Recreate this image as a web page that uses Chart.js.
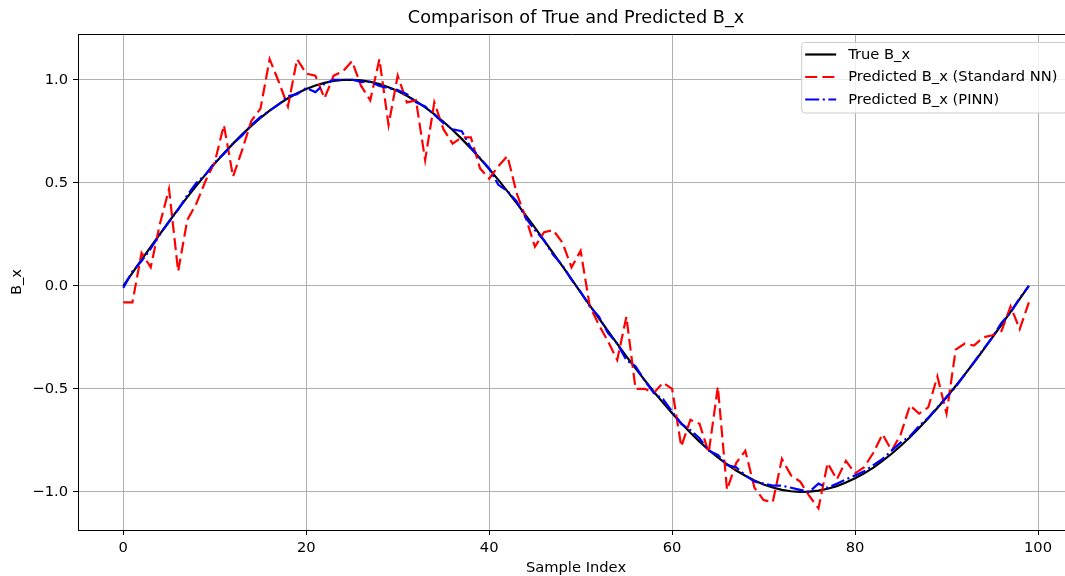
<!DOCTYPE html>
<html>
<head>
<meta charset="utf-8">
<title>Comparison of True and Predicted B_x</title>
<script src="https://cdn.jsdelivr.net/npm/chart.js@4.4.1/dist/chart.umd.min.js"></script>
<style>
    html, body { margin: 0; padding: 0; background: #fff; overflow: hidden; }
    canvas { display: block; }
</style>
</head>
<body>
<canvas id="bxChart" width="1065" height="576"></canvas>
<script>
// ==============================
// Data
// ==============================
const sampleIndex = Array.from({ length: 100 }, (_, i) => i);

const trueBx = [
    0.000, 0.063, 0.127, 0.189, 0.251, 0.312, 0.372, 0.430, 0.486, 0.541,
    0.593, 0.643, 0.690, 0.735, 0.776, 0.815, 0.850, 0.882, 0.910, 0.934,
    0.955, 0.972, 0.985, 0.994, 0.999, 1.000, 0.997, 0.990, 0.979, 0.964,
    0.945, 0.922, 0.896, 0.866, 0.833, 0.796, 0.756, 0.713, 0.667, 0.618,
    0.567, 0.514, 0.458, 0.401, 0.342, 0.282, 0.220, 0.158, 0.095, 0.032,
    -0.032, -0.095, -0.158, -0.220, -0.282, -0.342, -0.401, -0.458, -0.514, -0.567,
    -0.618, -0.667, -0.713, -0.756, -0.796, -0.833, -0.866, -0.896, -0.922, -0.945,
    -0.964, -0.979, -0.990, -0.997, -1.000, -0.999, -0.994, -0.985, -0.972, -0.955,
    -0.934, -0.910, -0.882, -0.850, -0.815, -0.776, -0.735, -0.690, -0.643, -0.593,
    -0.541, -0.486, -0.430, -0.372, -0.312, -0.251, -0.189, -0.127, -0.063, 0.000
];

const predictedNN = [
    -0.08, -0.08, 0.16, 0.09, 0.30, 0.47, 0.07, 0.32, 0.40, 0.51,
    0.60, 0.78, 0.53, 0.66, 0.80, 0.86, 1.10, 0.99, 0.87, 1.10,
    1.03, 1.02, 0.91, 1.02, 1.04, 1.09, 0.97, 0.90, 1.10, 0.78,
    1.02, 0.89, 0.90, 0.61, 0.89, 0.76, 0.69, 0.72, 0.72, 0.57,
    0.52, 0.58, 0.63, 0.45, 0.33, 0.19, 0.26, 0.27, 0.21, 0.09,
    0.17, -0.10, -0.19, -0.27, -0.36, -0.15, -0.50, -0.50, -0.52, -0.47,
    -0.50, -0.78, -0.65, -0.67, -0.81, -0.49, -0.99, -0.86, -0.80, -0.98,
    -1.04, -1.05, -0.84, -0.92, -0.95, -1.02, -1.08, -0.86, -0.94, -0.85,
    -0.91, -0.88, -0.81, -0.72, -0.80, -0.72, -0.58, -0.62, -0.59, -0.44,
    -0.62, -0.31, -0.28, -0.29, -0.25, -0.24, -0.22, -0.10, -0.21, -0.08
];

const predictedPINN = [
    -0.01, 0.07, 0.12, 0.18, 0.25, 0.31, 0.37, 0.44, 0.50, 0.54,
    0.60, 0.64, 0.69, 0.73, 0.78, 0.82, 0.85, 0.88, 0.92, 0.93,
    0.96, 0.94, 0.98, 1.00, 1.00, 1.00, 0.99, 0.99, 0.97, 0.96,
    0.95, 0.93, 0.89, 0.87, 0.83, 0.79, 0.76, 0.75, 0.67, 0.62,
    0.57, 0.49, 0.46, 0.41, 0.33, 0.27, 0.22, 0.15, 0.10, 0.03,
    -0.03, -0.10, -0.15, -0.23, -0.28, -0.36, -0.39, -0.46, -0.52, -0.55,
    -0.61, -0.67, -0.70, -0.74, -0.80, -0.82, -0.87, -0.88, -0.92, -0.95,
    -0.96, -0.97, -0.97, -0.98, -0.99, -1.00, -0.96, -0.98, -0.96, -0.94,
    -0.92, -0.90, -0.87, -0.84, -0.80, -0.76, -0.73, -0.68, -0.64, -0.59,
    -0.54, -0.49, -0.43, -0.37, -0.31, -0.25, -0.18, -0.13, -0.06, 0.00
];

const xTicks = [0, 20, 40, 60, 80, 100];
const yTicks = [-1.0, -0.5, 0.0, 0.5, 1.0];

const FONT = "'DejaVu Sans', sans-serif";
const TICK_SIZE = 14.7;

function toPoints(values) {
    return values.map((v, i) => ({ x: sampleIndex[i], y: v }));
}

// ==============================
// Title, axis labels, top spine and matplotlib-style legend
// ==============================
const decorPlugin = {
    id: "decor",
    afterDraw(chart) {
        const ctx = chart.ctx;
        const area = chart.chartArea;
        // the axes box runs on a little past the right edge of the picture
        const axesRight = 1074;
        const midX = (area.left + axesRight) / 2;

        ctx.save();
        ctx.strokeStyle = "#000";
        ctx.lineWidth = 1;
        ctx.beginPath();
        ctx.moveTo(area.left, area.top + 0.5);
        ctx.lineTo(chart.width, area.top + 0.5);
        ctx.stroke();

        ctx.fillStyle = "#000";
        ctx.textAlign = "center";
        ctx.textBaseline = "middle";
        ctx.font = "17.7px " + FONT;
        ctx.fillText("Comparison of True and Predicted B_x", midX, 18);

        ctx.font = TICK_SIZE + "px " + FONT;
        ctx.fillText("Sample Index", midX, 568);

        ctx.translate(17, (area.top + area.bottom) / 2);
        ctx.rotate(-Math.PI / 2);
        ctx.fillText("B_x", 0, 0);
        ctx.restore();

        // legend box
        const pad = 6;
        const handle = 31;
        const textPad = 12;
        const rowH = 22.5;
        const sets = chart.data.datasets;

        ctx.save();
        ctx.font = TICK_SIZE + "px " + FONT;
        let maxW = 0;
        sets.forEach(ds => { maxW = Math.max(maxW, ctx.measureText(ds.label).width); });
        const right = axesRight - 7;
        const boxW = pad * 2 + handle + textPad + maxW + 1;
        const left = right - boxW;
        const top = 42.5;
        const boxH = 70.5;

        ctx.fillStyle = "rgba(255,255,255,0.8)";
        ctx.strokeStyle = "#cccccc";
        ctx.lineWidth = 1;
        ctx.beginPath();
        ctx.roundRect(left, top, boxW, boxH, 3);
        ctx.fill();
        ctx.stroke();

        sets.forEach((ds, i) => {
            const y = top + 12 + rowH * i;
            ctx.strokeStyle = ds.borderColor;
            ctx.lineWidth = ds.borderWidth;
            ctx.setLineDash(ds.borderDash || []);
            ctx.beginPath();
            ctx.moveTo(left + 3.5, y);
            ctx.lineTo(left + 3.5 + handle, y);
            ctx.stroke();
            ctx.setLineDash([]);
            ctx.fillStyle = "#000";
            ctx.textAlign = "left";
            ctx.textBaseline = "middle";
            ctx.fillText(ds.label, left + 3.5 + handle + textPad, y + 0.5);
        });
        ctx.restore();
    }
};

// ==============================
// Chart
// ==============================
const ctx = document.getElementById("bxChart").getContext("2d");
const chart = new Chart(ctx, {
    type: "line",
    data: {
        datasets: [
            {
                label: "True B_x",
                data: toPoints(trueBx),
                borderColor: "#000000",
                borderWidth: 2.2,
                order: 2
            },
            {
                label: "Predicted B_x (Standard NN)",
                data: toPoints(predictedNN),
                borderColor: "#ff0000",
                borderWidth: 2.2,
                borderDash: [12, 5.2],
                order: 1
            },
            {
                label: "Predicted B_x (PINN)",
                data: toPoints(predictedPINN),
                borderColor: "#0000ff",
                borderWidth: 2.2,
                borderDash: [14, 3.5, 2.2, 3.5],
                order: 0
            }
        ]
    },
    options: {
        responsive: false,
        animation: false,
        devicePixelRatio: 1,
        elements: {
            point: { radius: 0 },
            line: { tension: 0, fill: false }
        },
        layout: {
            padding: { left: 0, top: 34, right: 0, bottom: 0 }
        },
        plugins: {
            legend: { display: false },
            title: { display: false },
            tooltip: { enabled: false }
        },
        scales: {
            x: {
                type: "linear",
                min: -4.95,
                max: 102.95,
                afterBuildTicks: scale => { scale.ticks = xTicks.map(v => ({ value: v })); },
                afterFit: scale => { scale.height = 46; },
                grid: {
                    color: "#b0b0b0",
                    lineWidth: 1,
                    tickColor: "#000",
                    tickLength: 5
                },
                border: { display: true, color: "#000", width: 1 },
                ticks: {
                    color: "#000",
                    padding: 4,
                    maxRotation: 0,
                    font: { family: FONT, size: TICK_SIZE },
                    callback: v => String(v)
                }
            },
            y: {
                type: "linear",
                min: -1.185,
                max: 1.222,
                afterBuildTicks: scale => { scale.ticks = yTicks.map(v => ({ value: v })); },
                afterFit: scale => { scale.width = 78; },
                grid: {
                    color: "#b0b0b0",
                    lineWidth: 1,
                    tickColor: "#000",
                    tickLength: 5
                },
                border: { display: true, color: "#000", width: 1 },
                ticks: {
                    color: "#000",
                    padding: 5,
                    font: { family: FONT, size: TICK_SIZE },
                    callback: v => (v < 0 ? "\u2212" : "") + Math.abs(v).toFixed(1)
                }
            }
        }
    },
    plugins: [decorPlugin]
});
</script>
</body>
</html>
